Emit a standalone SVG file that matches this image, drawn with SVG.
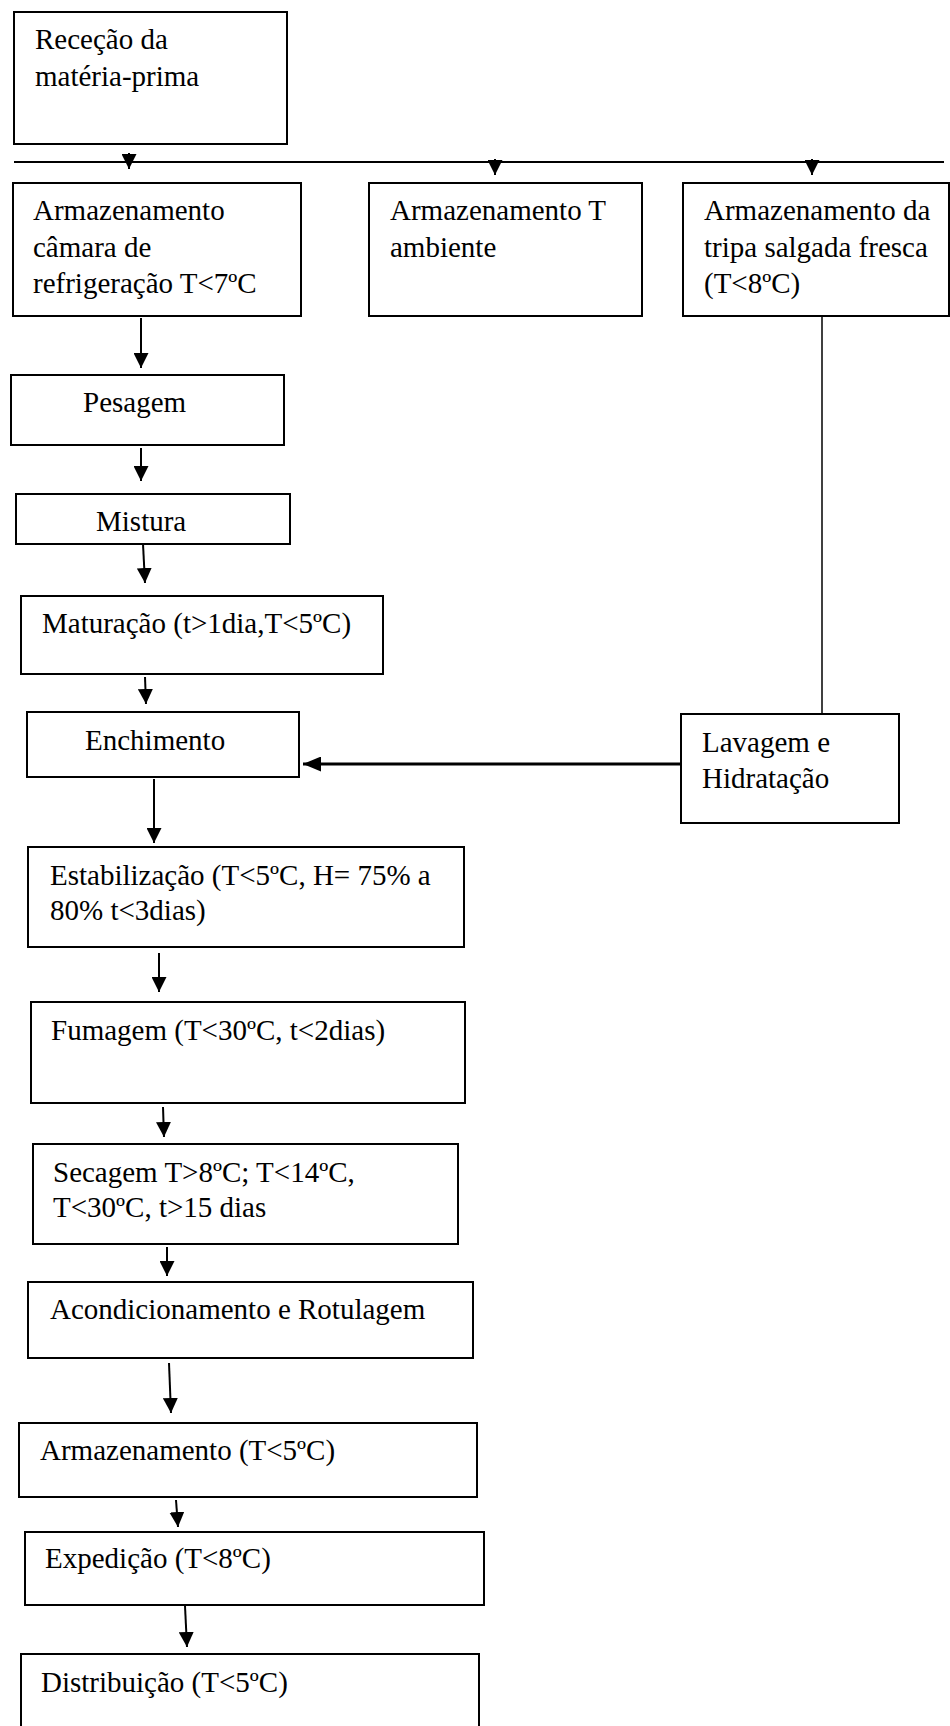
<svg xmlns="http://www.w3.org/2000/svg" width="950" height="1726" viewBox="0 0 950 1726">
<style>
rect.box{fill:#fff;stroke:#000;stroke-width:2}
text{font-family:"Liberation Serif","Times New Roman",serif;font-size:29px;fill:#000}
.c{stroke:#000;stroke-width:2;fill:none}
</style>
<defs>
<marker id="ah" markerUnits="userSpaceOnUse" markerWidth="15" markerHeight="15" refX="15" refY="7.5" orient="auto"><path d="M0,0 L15,7.5 L0,15 z" fill="#000"/></marker>
<marker id="ahb" markerUnits="userSpaceOnUse" markerWidth="18" markerHeight="15" refX="18" refY="7.5" orient="auto"><path d="M0,0 L18,7.5 L0,15 z" fill="#000"/></marker>
</defs>
<rect width="950" height="1726" fill="#fff"/>
<g id="connectors">
<line class="c" x1="14" y1="162" x2="944" y2="162"/>
<line class="c" x1="129" y1="153" x2="129" y2="169" marker-end="url(#ah)"/>
<line class="c" x1="495" y1="159" x2="495" y2="175" marker-end="url(#ah)"/>
<line class="c" x1="812" y1="159" x2="812" y2="175" marker-end="url(#ah)"/>
<line class="c" x1="141" y1="318" x2="141" y2="368" marker-end="url(#ah)"/>
<line class="c" x1="141" y1="448" x2="141" y2="481" marker-end="url(#ah)"/>
<line class="c" x1="143" y1="544" x2="145" y2="583" marker-end="url(#ah)"/>
<line class="c" x1="145" y1="677" x2="146" y2="704" marker-end="url(#ah)"/>
<line class="c" x1="154" y1="779" x2="154" y2="843" marker-end="url(#ah)"/>
<line class="c" x1="159" y1="953" x2="159" y2="992" marker-end="url(#ah)"/>
<line class="c" x1="163" y1="1107" x2="164" y2="1137" marker-end="url(#ah)"/>
<line class="c" x1="167" y1="1247" x2="167" y2="1276" marker-end="url(#ah)"/>
<line class="c" x1="169" y1="1363" x2="171" y2="1413" marker-end="url(#ah)"/>
<line class="c" x1="176" y1="1500" x2="178" y2="1527" marker-end="url(#ah)"/>
<line class="c" x1="185" y1="1606" x2="187" y2="1647" marker-end="url(#ah)"/>
<line class="c" style="stroke-width:1.5" x1="822" y1="316" x2="822" y2="714"/>
<line class="c" style="stroke-width:3" x1="681" y1="764" x2="303" y2="764" marker-end="url(#ahb)"/>
</g>
<g id="n-rececao"><rect class="box" x="14" y="12" width="273" height="132"/><text x="35" y="49">Receção da</text><text x="35" y="86">matéria-prima</text></g>
<g id="n-arm-camara"><rect class="box" x="13" y="183" width="288" height="133"/><text x="33" y="220">Armazenamento</text><text x="33" y="257">câmara de</text><text x="33" y="293">refrigeração T&lt;7ºC</text></g>
<g id="n-arm-ambiente"><rect class="box" x="369" y="183" width="273" height="133"/><text x="390" y="220">Armazenamento T</text><text x="390" y="257">ambiente</text></g>
<g id="n-arm-tripa"><rect class="box" x="683" y="183" width="266" height="133"/><text x="704" y="220">Armazenamento da</text><text x="704" y="257">tripa salgada fresca</text><text x="704" y="293">(T&lt;8ºC)</text></g>
<g id="n-pesagem"><rect class="box" x="11" y="375" width="273" height="70"/><text x="83" y="412">Pesagem</text></g>
<g id="n-mistura"><rect class="box" x="16" y="494" width="274" height="50"/><text x="96" y="531">Mistura</text></g>
<g id="n-maturacao"><rect class="box" x="21" y="596" width="362" height="78"/><text x="42" y="633">Maturação (t&gt;1dia,T&lt;5ºC)</text></g>
<g id="n-enchimento"><rect class="box" x="27" y="712" width="272" height="65"/><text x="85" y="750">Enchimento</text></g>
<g id="n-lavagem"><rect class="box" x="681" y="714" width="218" height="109"/><text x="702" y="752">Lavagem e</text><text x="702" y="788">Hidratação</text></g>
<g id="n-estabilizacao"><rect class="box" x="28" y="847" width="436" height="100"/><text x="50" y="885">Estabilização (T&lt;5ºC, H= 75% a</text><text x="50" y="920">80% t&lt;3dias)</text></g>
<g id="n-fumagem"><rect class="box" x="31" y="1002" width="434" height="101"/><text x="51" y="1040">Fumagem (T&lt;30ºC, t&lt;2dias)</text></g>
<g id="n-secagem"><rect class="box" x="33" y="1144" width="425" height="100"/><text x="53" y="1182">Secagem T&gt;8ºC; T&lt;14ºC,</text><text x="53" y="1217">T&lt;30ºC, t&gt;15 dias</text></g>
<g id="n-acondicionamento"><rect class="box" x="28" y="1282" width="445" height="76"/><text x="50" y="1319">Acondicionamento e Rotulagem</text></g>
<g id="n-armazenamento"><rect class="box" x="19" y="1423" width="458" height="74"/><text x="40" y="1460">Armazenamento (T&lt;5ºC)</text></g>
<g id="n-expedicao"><rect class="box" x="25" y="1532" width="459" height="73"/><text x="45" y="1568">Expedição (T&lt;8ºC)</text></g>
<g id="n-distribuicao"><rect class="box" x="21" y="1654" width="458" height="80"/><text x="41" y="1692">Distribuição (T&lt;5ºC)</text></g>
</svg>
